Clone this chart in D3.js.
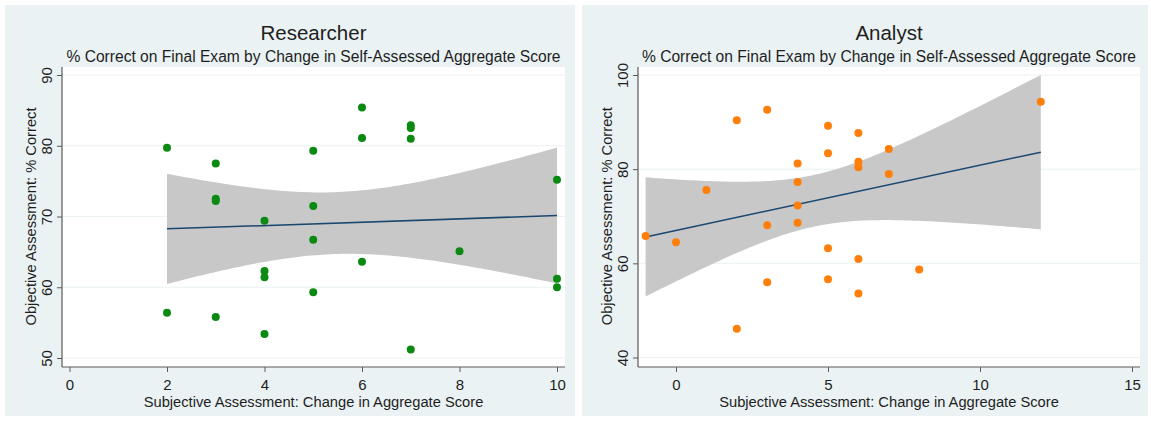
<!DOCTYPE html>
<html>
<head>
<meta charset="utf-8">
<script src="https://cdn.jsdelivr.net/npm/d3@7"></script>
<style>
  html, body { margin: 0; padding: 0; background: #ffffff; }
  svg { display: block; font-family: "Liberation Sans", Arial, Helvetica, sans-serif; }
</style>
</head>
<body>
<svg id="chart" width="1151" height="421"></svg>
<script>
// Researcher: change in self-assessed aggregate score vs. % correct on the final exam
const researcherChange  = [2, 2, 3, 3, 3, 3, 4, 4, 4, 4, 5, 5, 5, 5, 6, 6, 6, 7, 7, 7, 7, 8, 10, 10, 10];
const researcherCorrect = [79.7, 56.4, 77.5, 72.5, 72.2, 55.8, 69.4, 62.3, 61.4, 53.4, 79.3, 71.5, 66.7, 59.3,
                           85.4, 81.1, 63.6, 82.9, 82.5, 81.0, 51.2, 65.1, 75.2, 61.2, 60.0];

// Analyst: same measures
const analystChange  = [-1, 0, 1, 2, 2, 3, 3, 3, 4, 4, 4, 4, 5, 5, 5, 5, 6, 6, 6, 6, 6, 7, 7, 8, 12];
const analystCorrect = [65.8, 64.5, 75.6, 90.4, 46.1, 92.6, 68.1, 56.0, 81.2, 77.3, 72.3, 68.6, 89.2, 83.4,
                        63.2, 56.6, 87.7, 81.6, 80.4, 60.9, 53.6, 84.3, 79.0, 58.7, 94.3];

// Axis ticks
const researcherXTicks = [0, 2, 4, 6, 8, 10];
const researcherYTicks = [50, 60, 70, 80, 90];
const analystXTicks = [0, 5, 10, 15];
const analystYTicks = [40, 60, 80, 100];

// Text
const subtitleText = "% Correct on Final Exam by Change in Self-Assessed Aggregate Score";
const xTitleText = "Subjective Assessment: Change in Aggregate Score";
const yTitleText = "Objective Assessment: % Correct";

// Two-sided 95% t critical value for n - 2 = 23 degrees of freedom
const T_CRIT_95 = 2.069;

const COLORS = {
  graphBg: "#eaf2f3",
  plotBg: "#ffffff",
  grid: "#eaf2f3",
  ci: "#c8c8c8",
  fit: "#1a476f",
  axis: "#5a5a5a",
  text: "#1e1e1e"
};

const panels = [
  {
    title: "Researcher",
    xs: researcherChange, ys: researcherCorrect,
    xTicks: researcherXTicks, yTicks: researcherYTicks,
    xDomain: [0, 10], xRange: [69.5, 557],
    yDomain: [50, 90], yRange: [358, 75],
    bg: { x: 5, y: 5, w: 570, h: 411 },
    plot: { x0: 62, x1: 565, y0: 67, y1: 367 },
    marker: "#0b8a12"
  },
  {
    title: "Analyst",
    xs: analystChange, ys: analystCorrect,
    xTicks: analystXTicks, yTicks: analystYTicks,
    xDomain: [0, 15], xRange: [676, 1132],
    yDomain: [40, 100], yRange: [357.5, 75],
    bg: { x: 582, y: 5, w: 566, h: 411 },
    plot: { x0: 638, x1: 1140, y0: 67, y1: 367 },
    marker: "#ff7f0a"
  }
];

// Ordinary least squares fit with a 95% confidence band for the mean prediction
function linearFit(xs, ys) {
  const n = xs.length;
  const mx = d3.mean(xs), my = d3.mean(ys);
  let sxx = 0, sxy = 0;
  for (let i = 0; i < n; i++) {
    sxx += (xs[i] - mx) ** 2;
    sxy += (xs[i] - mx) * (ys[i] - my);
  }
  const slope = sxy / sxx;
  const intercept = my - slope * mx;
  let sse = 0;
  for (let i = 0; i < n; i++) sse += (ys[i] - (intercept + slope * xs[i])) ** 2;
  const s = Math.sqrt(sse / (n - 2));
  const predict = x => intercept + slope * x;
  const half = x => T_CRIT_95 * s * Math.sqrt(1 / n + (x - mx) ** 2 / sxx);
  return { predict, lo: x => predict(x) - half(x), hi: x => predict(x) + half(x) };
}

const svg = d3.select("#chart");

function drawPanel(cfg) {
  const g = svg.append("g");
  const p = cfg.plot;

  g.append("rect")
    .attr("x", cfg.bg.x).attr("y", cfg.bg.y)
    .attr("width", cfg.bg.w).attr("height", cfg.bg.h)
    .attr("fill", COLORS.graphBg);

  g.append("rect")
    .attr("x", p.x0).attr("y", p.y0)
    .attr("width", p.x1 - p.x0).attr("height", p.y1 - p.y0)
    .attr("fill", COLORS.plotBg);

  const x = d3.scaleLinear().domain(cfg.xDomain).range(cfg.xRange);
  const y = d3.scaleLinear().domain(cfg.yDomain).range(cfg.yRange);

  // horizontal grid lines at the y labels
  g.append("g").selectAll("line").data(cfg.yTicks).join("line")
    .attr("x1", p.x0).attr("x2", p.x1)
    .attr("y1", d => y(d)).attr("y2", d => y(d))
    .attr("stroke", COLORS.grid).attr("stroke-width", 1);

  // fitted line and confidence band over the observed x range
  const fit = linearFit(cfg.xs, cfg.ys);
  const [xmin, xmax] = d3.extent(cfg.xs);
  const grid = d3.range(101).map(i => xmin + (xmax - xmin) * i / 100);

  g.append("path")
    .datum(grid)
    .attr("d", d3.area().x(d => x(d)).y0(d => y(fit.lo(d))).y1(d => y(fit.hi(d))))
    .attr("fill", COLORS.ci);

  g.append("path")
    .datum([xmin, xmax])
    .attr("d", d3.line().x(d => x(d)).y(d => y(fit.predict(d))))
    .attr("fill", "none")
    .attr("stroke", COLORS.fit)
    .attr("stroke-width", 1.5);

  // observations
  g.append("g").selectAll("circle")
    .data(cfg.xs.map((v, i) => [v, cfg.ys[i]]))
    .join("circle")
    .attr("cx", d => x(d[0])).attr("cy", d => y(d[1]))
    .attr("r", 4)
    .attr("fill", cfg.marker);

  // x axis
  const xAxis = g.append("g")
    .attr("transform", `translate(0,${p.y1})`)
    .call(d3.axisBottom(x).tickValues(cfg.xTicks).tickSize(5).tickFormat(d3.format("d")));
  xAxis.select(".domain").remove();
  xAxis.selectAll(".tick line").attr("stroke", COLORS.axis);
  xAxis.selectAll(".tick text")
    .attr("y", 22.5).attr("dy", null)
    .attr("fill", COLORS.text)
    .style("font-size", "15px");

  // y axis with vertical labels
  const yAxis = g.append("g")
    .attr("transform", `translate(${p.x0},0)`)
    .call(d3.axisLeft(y).tickValues(cfg.yTicks).tickSize(5).tickFormat(d3.format("d")));
  yAxis.select(".domain").remove();
  yAxis.selectAll(".tick line").attr("stroke", COLORS.axis);
  yAxis.selectAll(".tick text")
    .attr("transform", "rotate(-90)")
    .attr("x", 0).attr("y", -10).attr("dy", null)
    .attr("text-anchor", "middle")
    .attr("fill", COLORS.text)
    .style("font-size", "15px");

  // axis lines along the plot region edges
  g.append("line")
    .attr("x1", p.x0).attr("x2", p.x1).attr("y1", p.y1).attr("y2", p.y1)
    .attr("stroke", COLORS.axis).attr("stroke-width", 1.2);
  g.append("line")
    .attr("x1", p.x0).attr("x2", p.x0).attr("y1", p.y0).attr("y2", p.y1)
    .attr("stroke", COLORS.axis).attr("stroke-width", 1.2);

  const cx = (p.x0 + p.x1) / 2;

  g.append("text")
    .attr("x", cx).attr("y", 40)
    .attr("text-anchor", "middle")
    .attr("fill", COLORS.text)
    .style("font-size", "20.5px")
    .text(cfg.title);

  g.append("text")
    .attr("x", cx).attr("y", 62)
    .attr("text-anchor", "middle")
    .attr("fill", COLORS.text)
    .style("font-size", "15.6px")
    .text(subtitleText);

  g.append("text")
    .attr("x", cx).attr("y", 406.5)
    .attr("text-anchor", "middle")
    .attr("fill", COLORS.text)
    .style("font-size", "14.7px")
    .text(xTitleText);

  const yMid = (y(cfg.yDomain[0]) + y(cfg.yDomain[1])) / 2;
  g.append("text")
    .attr("transform", `translate(${p.x0 - 26},${yMid}) rotate(-90)`)
    .attr("text-anchor", "middle")
    .attr("fill", COLORS.text)
    .style("font-size", "14.7px")
    .text(yTitleText);
}

panels.forEach(drawPanel);
</script>
</body>
</html>
